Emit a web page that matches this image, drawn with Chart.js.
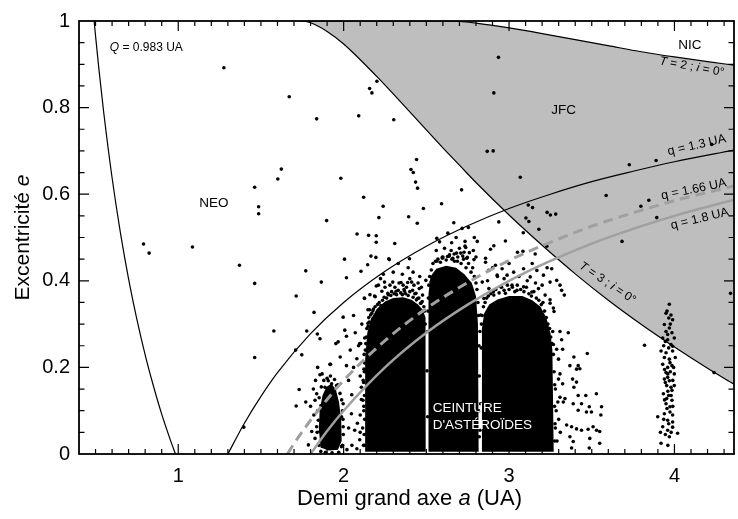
<!DOCTYPE html>
<html>
<head>
<meta charset="utf-8">
<script src="https://cdn.jsdelivr.net/npm/chart.js@4.4.1/dist/chart.umd.min.js"></script>
<style>
  html, body { margin: 0; padding: 0; background: #fff; }
</style>
</head>
<body>
<canvas id="chart" width="738" height="519"></canvas>
<script>
const FONT = "'Liberation Sans', Arial, Helvetica, sans-serif";

const xTicks = [1, 2, 3, 4];
const yTicks = [0, 0.2, 0.4, 0.6, 0.8, 1];

// boundary curves, [a, e]
const curveQ0983 = [[0.4915, 1], [0.5, 0.966], [0.52, 0.89], [0.55, 0.787], [0.6, 0.638], [0.65, 0.512], [0.7, 0.404], [0.75, 0.311], [0.8, 0.229], [0.85, 0.157], [0.9, 0.092], [0.95, 0.035], [0.983, 0]];
const curveQ13 = [[1.3, 0], [1.4, 0.071], [1.5, 0.133], [1.6, 0.188], [1.8, 0.278], [2.0, 0.35], [2.25, 0.422], [2.5, 0.48], [2.75, 0.527], [3.0, 0.567], [3.25, 0.6], [3.5, 0.629], [3.75, 0.653], [4.0, 0.675], [4.36, 0.702]];
const curveQ166 = [[1.66, 0], [1.7, 0.024], [1.8, 0.078], [1.9, 0.126], [2.0, 0.17], [2.25, 0.262], [2.5, 0.336], [2.75, 0.396], [3.0, 0.447], [3.25, 0.489], [3.5, 0.526], [3.75, 0.557], [4.0, 0.585], [4.36, 0.619]];
const curveQ18 = [[1.8, 0], [1.9, 0.053], [2.0, 0.1], [2.25, 0.2], [2.5, 0.28], [2.75, 0.345], [3.0, 0.4], [3.25, 0.446], [3.5, 0.486], [3.75, 0.52], [4.0, 0.55], [4.36, 0.587]];

// Tisserand T=3 and T=2 (i = 0), same abscissae
const tisserandA = [1.733, 1.75, 1.8, 1.9, 2.0, 2.2, 2.4, 2.6, 2.7, 2.8, 3.0, 3.2, 3.4, 3.6, 3.8, 4.0, 4.2, 4.36];
const tisserand3 = [1, 1, 0.996, 0.976, 0.947, 0.872, 0.79, 0.707, 0.667, 0.627, 0.552, 0.482, 0.416, 0.355, 0.299, 0.247, 0.198, 0.161];
const tisserand2 = [1, 1, 1, 1, 1, 1, 1, 1, 0.999, 0.995, 0.984, 0.971, 0.957, 0.943, 0.929, 0.917, 0.906, 0.898];

// dense parts of the belt, outlines [a, e]
const hungariaCore = [[1.86, 0.015], [1.85, 0.06], [1.855, 0.1], [1.872, 0.135], [1.895, 0.155], [1.925, 0.162], [1.952, 0.15], [1.972, 0.12], [1.985, 0.08], [1.988, 0.03], [1.965, 0.01], [1.91, 0.008]];
const innerBelt = [[2.132, 0.005], [2.13, 0.22], [2.143, 0.28], [2.163, 0.31], [2.2, 0.335], [2.25, 0.352], [2.3, 0.36], [2.36, 0.362], [2.41, 0.356], [2.45, 0.345], [2.478, 0.333], [2.495, 0.315], [2.496, 0.005]];
const middleBelt = [[2.513, 0.005], [2.513, 0.37], [2.525, 0.41], [2.56, 0.428], [2.62, 0.435], [2.68, 0.43], [2.73, 0.415], [2.775, 0.395], [2.8, 0.365], [2.812, 0.3], [2.816, 0.005]];
const outerBelt = [[2.836, 0.005], [2.836, 0.29], [2.85, 0.325], [2.88, 0.345], [2.93, 0.357], [3.0, 0.365], [3.08, 0.365], [3.14, 0.355], [3.19, 0.34], [3.225, 0.315], [3.25, 0.28], [3.262, 0.24], [3.27, 0.005]];

// individual asteroids
const asteroids = [
  [1.276, 0.892], [1.671, 0.825], [1.837, 0.774], [2.091, 0.781], [1.623, 0.658], [1.602, 0.635], [1.462, 0.616], [1.486, 0.571], [1.486, 0.555],
  [1.983, 0.637], [2.121, 0.593], [1.897, 0.539], [2.081, 0.508], [0.79, 0.485], [0.824, 0.464], [1.086, 0.478], [2.005, 0.45], [1.37, 0.436],
  [1.462, 0.394], [1.771, 0.423], [1.865, 0.397], [2.151, 0.505], [2.197, 0.504], [2.197, 0.489], [2.165, 0.457], [2.195, 0.454], [2.145, 0.437],
  [2.105, 0.422], [1.713, 0.365], [1.821, 0.327], [1.997, 0.316], [2.197, 0.388], [2.125, 0.36], [2.159, 0.368], [2.187, 0.365], [2.157, 0.333],
  [2.177, 0.331], [2.163, 0.321], [2.177, 0.312], [1.578, 0.284], [1.462, 0.223], [1.71, 0.24], [1.747, 0.229], [1.777, 0.284], [1.841, 0.277],
  [1.857, 0.266], [1.396, 0.062], [2.017, 0.407], [1.953, 0.255], [1.967, 0.259], [2.007, 0.286], [2.017, 0.272], [1.979, 0.224], [2.097, 0.255],
  [1.921, 0.207], [1.843, 0.2], [1.857, 0.183], [2.017, 0.204], [1.731, 0.149], [1.713, 0.111], [1.771, 0.12], [2.049, 0.137], [2.107, 0.126],
  [2.201, 0.861], [2.157, 0.844], [2.171, 0.834], [2.908, 0.834], [2.303, 0.772], [2.868, 0.699], [2.904, 0.7], [2.441, 0.68], [2.407, 0.657],
  [2.421, 0.65], [2.435, 0.628], [2.447, 0.614], [3.068, 0.639], [2.713, 0.61], [2.239, 0.572], [2.213, 0.546], [2.393, 0.548], [2.482, 0.567],
  [2.592, 0.578], [2.445, 0.533], [2.666, 0.534], [2.716, 0.521], [2.754, 0.523], [2.938, 0.536], [3.116, 0.575], [3.142, 0.569], [3.102, 0.545],
  [3.12, 0.537], [3.23, 0.558], [3.25, 0.552], [3.282, 0.554], [3.18, 0.519], [3.086, 0.511], [2.563, 0.498], [2.309, 0.486], [2.653, 0.488],
  [2.734, 0.491], [2.734, 0.48], [2.978, 0.492], [2.888, 0.473], [3.228, 0.48], [2.276, 0.449], [2.398, 0.451], [2.563, 0.445], [2.596, 0.454],
  [2.628, 0.456], [2.66, 0.452], [2.683, 0.464], [2.728, 0.466], [2.72, 0.457], [2.744, 0.452], [2.784, 0.47], [2.858, 0.452], [3.051, 0.466],
  [3.084, 0.468], [3.158, 0.462], [2.936, 0.916], [3.587, 0.597], [3.727, 0.668], [3.889, 0.678], [3.797, 0.572], [3.845, 0.586], [3.893, 0.546],
  [3.683, 0.491], [4.225, 0.715], [4.339, 0.371], [4.239, 0.188], [3.819, 0.251],
  [3.258, 0.428], [3.288, 0.401], [3.308, 0.39], [3.318, 0.378], [3.334, 0.367], [3.248, 0.348], [3.268, 0.337], [3.272, 0.329], [3.228, 0.283],
  [3.264, 0.283], [3.308, 0.283], [3.358, 0.28], [3.318, 0.264], [3.268, 0.253], [3.288, 0.242], [3.324, 0.242], [3.248, 0.234], [3.299, 0.219],
  [3.392, 0.224], [3.473, 0.232], [3.368, 0.204], [3.418, 0.204], [3.428, 0.197], [3.408, 0.196], [3.308, 0.185], [3.299, 0.173], [3.324, 0.162],
  [3.384, 0.173], [3.408, 0.166], [3.392, 0.154], [3.308, 0.131], [3.338, 0.128], [3.328, 0.12], [3.418, 0.135], [3.464, 0.135], [3.528, 0.139],
  [3.388, 0.116], [3.438, 0.116], [3.485, 0.109], [3.418, 0.101], [3.468, 0.097], [3.498, 0.097], [3.559, 0.109], [3.555, 0.09], [3.348, 0.067],
  [3.378, 0.063], [3.408, 0.058], [3.438, 0.055], [3.478, 0.057], [3.508, 0.063], [3.529, 0.055], [3.548, 0.052], [3.368, 0.04], [3.388, 0.029],
  [3.488, 0.036], [3.378, 0.014], [3.485, 0.014], [3.548, 0.025], [3.28, 0.15], [3.285, 0.1], [3.28, 0.06], [3.29, 0.03], [3.3, 0.08], [3.31, 0.05], [3.295, 0.12],
  [2.273, 0.451], [2.223, 0.405], [2.247, 0.397], [2.297, 0.397], [2.347, 0.396], [2.387, 0.396], [2.411, 0.397], [2.497, 0.401], [2.231, 0.376],
  [2.267, 0.371], [2.317, 0.376], [2.368, 0.376], [2.417, 0.378], [2.437, 0.371], [2.127, 0.359], [2.191, 0.363], [2.147, 0.333], [2.177, 0.31],
  [2.147, 0.302], [2.103, 0.255], [2.127, 0.268], [1.917, 0.207], [2.123, 0.196], [1.817, 0.15], [1.837, 0.139], [1.827, 0.124], [1.863, 0.112],
  [1.907, 0.169], [1.927, 0.162], [1.887, 0.154], [1.937, 0.148], [1.957, 0.158], [1.867, 0.097], [1.847, 0.078], [1.837, 0.063], [1.857, 0.052],
  [1.877, 0.04], [1.807, 0.052], [1.827, 0.036], [1.787, 0.021], [1.927, 0.025], [1.967, 0.033], [1.987, 0.017], [1.947, 0.014], [1.997, 0.116],
  [1.987, 0.086], [1.997, 0.063], [2.047, 0.093], [2.067, 0.055], [2.097, 0.033], [2.083, 0.071], [2.107, 0.154], [2.117, 0.124],
  [2.12, 0.02], [2.115, 0.06], [2.122, 0.1], [2.118, 0.17], [2.124, 0.23], [2.02, 0.01], [2.05, 0.02], [2.08, 0.012], [2.1, 0.05],
  [2.738, 0.477], [2.808, 0.491], [2.908, 0.481], [2.598, 0.452], [2.638, 0.457], [2.668, 0.462], [2.708, 0.464], [2.688, 0.445], [2.748, 0.454],
  [2.788, 0.449], [2.858, 0.443], [2.878, 0.424], [2.918, 0.436], [2.958, 0.428], [2.928, 0.413], [2.988, 0.413], [3.028, 0.42], [3.088, 0.428],
  [3.128, 0.409], [3.168, 0.424], [3.208, 0.413], [3.248, 0.397], [2.838, 0.397], [2.878, 0.382], [2.908, 0.367], [2.848, 0.359], [2.948, 0.386],
  [2.978, 0.371], [3.018, 0.39], [3.048, 0.378], [3.088, 0.386], [3.138, 0.374], [3.178, 0.382], [3.218, 0.367], [3.248, 0.356],
  [2.828, 0.321], [2.824, 0.283], [2.832, 0.245], [2.828, 0.116], [2.824, 0.055], [2.508, 0.283], [2.504, 0.192], [2.508, 0.086],
  [2.528, 0.397], [2.568, 0.39], [2.548, 0.367], [2.628, 0.375], [2.688, 0.382], [2.748, 0.378], [2.788, 0.359], [2.447, 0.359], [2.467, 0.348],
  [2.477, 0.367], [2.457, 0.382],
  [2.03, 0.17], [2.06, 0.2], [2.08, 0.22], [2.1, 0.18], [2.09, 0.25], [2.07, 0.28], [2.11, 0.3], [2.06, 0.32], [2.04, 0.24], [2.1, 0.09], [2.03, 0.06]
];

// ragged edges of the dense belt regions
const beltFringe = [
  // Hungaria
  [1.85, 0.02], [1.84, 0.05], [1.843, 0.1], [1.852, 0.13], [1.865, 0.155], [1.88, 0.17], [1.9, 0.175], [1.92, 0.18], [1.945, 0.172], [1.965, 0.16],
  [1.978, 0.14], [1.988, 0.125], [1.993, 0.1], [1.996, 0.08], [1.998, 0.045], [1.993, 0.02], [1.97, 0.004], [1.93, 0.003], [1.89, 0.004], [1.862, 0.006],
  [1.82, 0.09], [1.8, 0.11], [1.83, 0.17], [1.87, 0.185],
  // inner belt
  [2.126, 0.02], [2.124, 0.045], [2.127, 0.08], [2.122, 0.11], [2.126, 0.135], [2.121, 0.165], [2.125, 0.19], [2.127, 0.21], [2.131, 0.24], [2.134, 0.255],
  [2.138, 0.27], [2.14, 0.29], [2.148, 0.295], [2.155, 0.305], [2.152, 0.315], [2.17, 0.325], [2.18, 0.335], [2.19, 0.34], [2.205, 0.345], [2.215, 0.35],
  [2.225, 0.343], [2.235, 0.355], [2.245, 0.362], [2.26, 0.36], [2.27, 0.368], [2.285, 0.366], [2.29, 0.375], [2.305, 0.37], [2.32, 0.368], [2.33, 0.378],
  [2.345, 0.372], [2.355, 0.368], [2.365, 0.38], [2.375, 0.37], [2.39, 0.366], [2.4, 0.375], [2.42, 0.362], [2.43, 0.37], [2.44, 0.356], [2.455, 0.36],
  [2.465, 0.348], [2.475, 0.352], [2.485, 0.34], [2.49, 0.33], [2.493, 0.3], [2.21, 0.39], [2.25, 0.385], [2.28, 0.39], [2.31, 0.385], [2.335, 0.395],
  [2.36, 0.39], [2.38, 0.385], [2.4, 0.405], [2.425, 0.39], [2.45, 0.395], [2.47, 0.385], [2.24, 0.415], [2.3, 0.42], [2.355, 0.415], [2.42, 0.42],
  [2.46, 0.41], [2.33, 0.44], [2.39, 0.43],
  // middle belt
  [2.51, 0.33], [2.512, 0.36], [2.515, 0.39], [2.52, 0.41], [2.53, 0.425], [2.54, 0.44], [2.555, 0.445], [2.57, 0.45], [2.585, 0.443], [2.6, 0.455],
  [2.62, 0.448], [2.64, 0.46], [2.655, 0.45], [2.67, 0.445], [2.69, 0.455], [2.71, 0.44], [2.725, 0.45], [2.74, 0.43], [2.755, 0.44], [2.77, 0.42],
  [2.78, 0.43], [2.79, 0.41], [2.8, 0.395], [2.806, 0.38], [2.812, 0.35], [2.815, 0.32], [2.818, 0.25], [2.82, 0.18], [2.818, 0.1], [2.82, 0.04],
  [2.56, 0.47], [2.61, 0.475], [2.65, 0.47], [2.7, 0.475], [2.76, 0.465], [2.8, 0.455], [2.58, 0.49], [2.68, 0.5], [2.63, 0.51], [2.79, 0.5],
  // outer belt
  [2.833, 0.3], [2.838, 0.32], [2.845, 0.34], [2.855, 0.35], [2.865, 0.36], [2.875, 0.365], [2.89, 0.37], [2.905, 0.375], [2.92, 0.38], [2.94, 0.372],
  [2.955, 0.385], [2.97, 0.378], [2.99, 0.39], [3.0, 0.38], [3.02, 0.385], [3.035, 0.375], [3.05, 0.39], [3.07, 0.38], [3.09, 0.375], [3.105, 0.385],
  [3.12, 0.37], [3.135, 0.365], [3.15, 0.375], [3.165, 0.36], [3.18, 0.355], [3.195, 0.345], [3.205, 0.35], [3.215, 0.33], [3.225, 0.315], [3.235, 0.3],
  [3.245, 0.29], [3.252, 0.27], [3.26, 0.255], [3.268, 0.23], [3.272, 0.19], [3.276, 0.16], [3.275, 0.11], [3.278, 0.07], [3.276, 0.03],
  [2.87, 0.4], [2.93, 0.41], [2.97, 0.405], [3.06, 0.41], [3.11, 0.4], [3.16, 0.395], [3.2, 0.39], [2.9, 0.43], [3.0, 0.44], [3.14, 0.44], [3.23, 0.43]
];

// Hilda group near a = 4
const hildas = [
  [3.969, 0.346], [3.949, 0.325], [3.979, 0.321], [3.989, 0.31], [3.939, 0.299], [3.969, 0.291], [3.949, 0.283], [3.985, 0.28], [3.929, 0.268],
  [3.959, 0.264], [3.999, 0.268], [3.979, 0.253], [3.919, 0.238], [3.949, 0.234], [3.989, 0.238], [3.939, 0.223], [3.969, 0.219], [4.005, 0.223],
  [3.929, 0.207], [3.959, 0.2], [3.985, 0.204], [3.949, 0.188], [3.999, 0.185], [3.939, 0.173], [3.969, 0.169], [3.953, 0.158], [3.979, 0.154],
  [3.999, 0.158], [3.933, 0.139], [3.965, 0.135], [3.985, 0.124], [3.949, 0.116], [3.973, 0.109], [3.899, 0.086], [3.939, 0.093], [3.959, 0.078],
  [3.989, 0.09], [3.929, 0.063], [3.959, 0.055], [3.989, 0.062], [4.019, 0.048], [3.969, 0.04], [3.919, 0.025], [3.966, 0.314], [3.959, 0.276],
  [3.989, 0.249], [3.973, 0.211], [3.959, 0.177], [3.985, 0.147], [3.953, 0.128], [3.973, 0.097], [3.989, 0.074], [3.955, 0.33], [3.975, 0.3],
  [3.945, 0.26], [3.965, 0.245], [3.935, 0.25], [3.995, 0.2], [3.94, 0.195], [3.975, 0.19], [3.96, 0.185], [3.945, 0.165], [3.99, 0.17],
  [3.96, 0.145], [3.94, 0.125], [3.98, 0.135], [3.955, 0.105], [3.99, 0.11], [3.935, 0.08], [3.965, 0.07], [3.945, 0.045], [3.98, 0.05],
  [3.915, 0.05], [3.96, 0.02]
];

// text placed on the plot: [text, italic]
const plotLabels = [
  { parts: [['Q', 1], [' = 0.983 UA', 0]], a: 0.586, e: 0.938, size: 12, align: 'left' },
  { parts: [['NEO', 0]], a: 1.216, e: 0.578, size: 13.5 },
  { parts: [['JFC', 0]], a: 3.33, e: 0.794, size: 13.5 },
  { parts: [['NIC', 0]], a: 4.093, e: 0.943, size: 13.5 },
  { parts: [['T', 1], [' = 2 ; ', 0], ['i', 1], [' = 0°', 0]], a: 4.105, e: 0.894, size: 12, rot: 10.5 },
  { parts: [['q = 1.3 UA', 0]], a: 4.135, e: 0.713, size: 12.5, rot: -13 },
  { parts: [['q = 1.66 UA', 0]], a: 4.117, e: 0.611, size: 12.5, rot: -11.5 },
  { parts: [['q = 1.8 UA', 0]], a: 4.153, e: 0.543, size: 12.5, rot: -13.5 },
  { parts: [['T', 1], [' = 3 ; ', 0], ['i', 1], [' = 0°', 0]], a: 3.595, e: 0.395, size: 12, rot: 34 },
  { parts: [['CEINTURE', 0]], a: 2.538, e: 0.106, size: 13.5, align: 'left', color: '#fff' },
  { parts: [["D'ASTÉROÏDES", 0]], a: 2.538, e: 0.067, size: 13.5, align: 'left', color: '#fff' }
];

const toXY = (arr) => arr.map(([x, y]) => ({ x, y }));

function drawRich(ctx, parts, x, y, opts) {
  const fonts = parts.map((p) => (p[1] ? 'italic ' : '') + opts.size + 'px ' + FONT);
  let total = 0;
  const widths = parts.map((p, i) => {
    ctx.font = fonts[i];
    const w = ctx.measureText(p[0]).width;
    total += w;
    return w;
  });
  ctx.save();
  ctx.translate(x, y);
  ctx.rotate(((opts.rot || 0) * Math.PI) / 180);
  ctx.fillStyle = opts.color || '#000';
  ctx.textBaseline = 'middle';
  ctx.textAlign = 'left';
  let cx = opts.align === 'left' ? 0 : -total / 2;
  parts.forEach((p, i) => {
    ctx.font = fonts[i];
    ctx.fillText(p[0], cx, 0);
    cx += widths[i];
  });
  ctx.restore();
}

const frameAndText = {
  id: 'frameAndText',
  afterDatasetsDraw(chart) {
    const { ctx, chartArea: ca, scales: { x, y } } = chart;
    plotLabels.forEach((l) => {
      drawRich(ctx, l.parts, x.getPixelForValue(l.a), y.getPixelForValue(l.e), l);
    });

    ctx.save();
    ctx.strokeStyle = '#000';
    ctx.lineWidth = 1.2;
    ctx.beginPath();
    for (let i = 5; i <= 43; i++) {
      const px = x.getPixelForValue(i / 10);
      const len = i % 10 === 0 ? 10 : 5;
      ctx.moveTo(px, ca.bottom); ctx.lineTo(px, ca.bottom - len);
      ctx.moveTo(px, ca.top); ctx.lineTo(px, ca.top + len);
    }
    for (let i = 1; i < 20; i++) {
      const py = y.getPixelForValue(i * 0.05);
      const len = i % 4 === 0 ? 10 : 5.5;
      ctx.moveTo(ca.left, py); ctx.lineTo(ca.left + len, py);
      ctx.moveTo(ca.right, py); ctx.lineTo(ca.right - len, py);
    }
    ctx.stroke();
    ctx.lineWidth = 1.8;
    ctx.strokeRect(ca.left, ca.top, ca.right - ca.left, ca.bottom - ca.top);
    ctx.restore();

    drawRich(ctx, [['Demi grand axe ', 0], ['a', 1], [' (UA)', 0]], (ca.left + ca.right) / 2 + 3, 499, { size: 22 });
    drawRich(ctx, [['Excentricité ', 0], ['e', 1]], 23, (ca.top + ca.bottom) / 2, { size: 21, rot: -90 });
  }
};

const GRAY_FILL = '#bebebe';
const GRAY_LINE = '#a0a0a0';

const lineBase = { type: 'line', pointRadius: 0, fill: false, cubicInterpolationMode: 'monotone' };
const blobBase = { type: 'line', pointRadius: 0, borderWidth: 0, tension: 0, fill: 'shape', backgroundColor: '#000', borderColor: '#000', order: 2 };

const datasets = [
  { ...lineBase, label: 'Q = 0.983 UA', data: toXY(curveQ0983), borderColor: '#000', borderWidth: 1.2, order: 0 },
  { ...lineBase, label: 'q = 1.3 UA', data: toXY(curveQ13), borderColor: '#000', borderWidth: 1.2, order: 0 },
  { ...lineBase, label: 'q = 1.66 UA', data: toXY(curveQ166), borderColor: GRAY_LINE, borderWidth: 3, borderDash: [10, 6], order: 0 },
  { ...lineBase, label: 'q = 1.8 UA', data: toXY(curveQ18), borderColor: GRAY_LINE, borderWidth: 2.5, order: 0 },
  { type: 'scatter', label: 'asteroids', data: toXY(asteroids.concat(beltFringe, hildas)), pointRadius: 1.8, pointBorderWidth: 0, pointBackgroundColor: '#000', order: 1 },
  { ...blobBase, label: 'Hungaria', data: toXY(hungariaCore) },
  { ...blobBase, label: 'inner belt', data: toXY(innerBelt) },
  { ...blobBase, label: 'middle belt', data: toXY(middleBelt) },
  { ...blobBase, label: 'outer belt', data: toXY(outerBelt) },
  { ...lineBase, label: 'T = 3', data: tisserandA.map((a, i) => ({ x: a, y: tisserand3[i] })), borderColor: '#000', borderWidth: 1.2, order: 0 },
  { ...lineBase, label: 'T = 2', data: tisserandA.map((a, i) => ({ x: a, y: tisserand2[i] })), borderColor: '#000', borderWidth: 1.2, fill: 9, backgroundColor: GRAY_FILL, order: 3 }
];

new Chart(document.getElementById('chart'), {
  type: 'scatter',
  data: { datasets },
  options: {
    responsive: false,
    animation: false,
    events: [],
    layout: { padding: { top: 16, right: 0.5, left: 0, bottom: 0 } },
    plugins: { legend: { display: false }, tooltip: { enabled: false } },
    scales: {
      x: {
        type: 'linear', min: 0.4, max: 4.36,
        grid: { display: false, drawTicks: false },
        border: { display: false },
        afterBuildTicks: (s) => { s.ticks = xTicks.map((v) => ({ value: v })); },
        afterFit: (s) => { s.height = 65; },
        ticks: { color: '#000', padding: 10, maxRotation: 0, font: { family: FONT, size: 20 }, callback: (v) => String(v) }
      },
      y: {
        type: 'linear', min: 0, max: 1,
        grid: { display: false, drawTicks: false },
        border: { display: false },
        afterBuildTicks: (s) => { s.ticks = yTicks.map((v) => ({ value: v })); },
        afterFit: (s) => { s.width = 79; },
        ticks: { color: '#000', padding: 9, font: { family: FONT, size: 20 }, callback: (v) => String(v) }
      }
    }
  },
  plugins: [frameAndText]
});
</script>
</body>
</html>
